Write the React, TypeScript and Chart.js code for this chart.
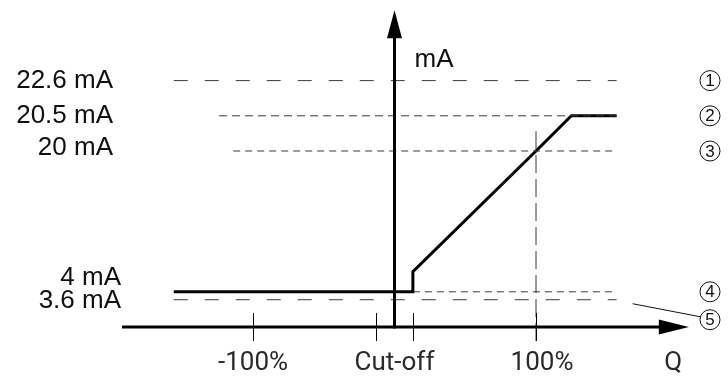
import React, { useEffect, useRef } from "react";
import { Chart, registerables } from "chart.js";

Chart.register(...registerables);

// ---- Flow axis Q (% of full scale) ----
const qAxisStart = -192.6;
const qAxisEnd = 208;
const qTickValues = [-100, 100];
const qTickLabels = ["-100%", "100%"];
const cutOff = 13;
const cutOffLabel = "Cut-off";
const qTitle = "Q";
const qTitleAt = 197;

// ---- Current axis (mA) ----
const mATitle = "mA";
const mAAxisTop = 26.8;
const levelValues = [22.6, 20.5, 20, 4, 3.6];
const levelLabels = ["22.6 mA", "20.5 mA", "20 mA", "4 mA", "3.6 mA"];
const levelMarkers = ["1", "2", "3", "4", "5"];
const levelStartQ = [-156, -124, -114, 13, -156];
const levelEndQ = [157, 157, 157, 157, 157];

// The diagram's current axis is schematic (not to scale):
// mA value -> drawn axis unit, piecewise linear
const knotsMA = [-10, 0, 3.6, 4, 20, 20.5, 22.6];
const knotsDrawn = [-10, 0, 3.1, 4, 20, 24, 28];

// ---- Output characteristic ----
const curveQ = [-156, 13, 13, 100, 125, 157];
const curveMA = [4, 4, 6.3, 20, 20.5, 20.5];

// ---- 100% guide line ----
const guideQ = 100;
const guideMA = [-1.6, 20.28];

function toDrawn(ma: number): number {
  const n = knotsMA.length;
  let i = 0;
  if (ma <= knotsMA[0]) i = 0;
  else if (ma >= knotsMA[n - 1]) i = n - 2;
  else {
    while (i < n - 2 && ma > knotsMA[i + 1]) i++;
  }
  const t = (ma - knotsMA[i]) / (knotsMA[i + 1] - knotsMA[i]);
  return knotsDrawn[i] + t * (knotsDrawn[i + 1] - knotsDrawn[i]);
}

// styles
const levelDash: number[][] = [[14, 17], [8, 5], [7, 5], [7, 5], [14, 17]];
const labelRightX = [113, 113, 113, 121, 121];
const labelDy = [0, 0, -3, -14, 1];
const markerDy = [0, 0, 0, 0, 0];
const LABEL_FONT = '26px "Liberation Sans", Arial, sans-serif';
const TICK_FONT = '26px Roboto, "Liberation Sans", sans-serif';

const diagramPlugin = {
  id: "diagram",
  afterDatasetsDraw(chart: any) {
    const ctx: CanvasRenderingContext2D = chart.ctx;
    const xs = chart.scales.x;
    const ys = chart.scales.y;
    const px = (q: number) => xs.getPixelForValue(q);
    const py = (ma: number) => ys.getPixelForValue(toDrawn(ma));
    ctx.save();

    const y0 = py(0);
    const x0 = px(0);

    // x axis with arrow
    const xTip = px(qAxisEnd);
    ctx.strokeStyle = "#000";
    ctx.fillStyle = "#000";
    ctx.lineWidth = 3;
    ctx.beginPath();
    ctx.moveTo(px(qAxisStart), y0);
    ctx.lineTo(xTip - 20, y0);
    ctx.stroke();
    ctx.beginPath();
    ctx.moveTo(xTip, y0);
    ctx.lineTo(xTip - 30, y0 - 7.5);
    ctx.lineTo(xTip - 30, y0 + 7.5);
    ctx.closePath();
    ctx.fill();

    // y axis with arrow
    const yTip = py(mAAxisTop);
    ctx.beginPath();
    ctx.moveTo(x0, y0 + 1.5);
    ctx.lineTo(x0, yTip + 20);
    ctx.stroke();
    ctx.beginPath();
    ctx.moveTo(x0, yTip);
    ctx.lineTo(x0 - 7.5, yTip + 28);
    ctx.lineTo(x0 + 7.5, yTip + 28);
    ctx.closePath();
    ctx.fill();

    // ticks
    ctx.lineWidth = 1;
    const tickQs = [...qTickValues, -cutOff, cutOff];
    tickQs.forEach((q) => {
      const x = Math.round(px(q)) + 0.5;
      ctx.beginPath();
      ctx.moveTo(x, y0 - 14);
      ctx.lineTo(x, y0 + 14);
      ctx.stroke();
    });

    // x labels
    ctx.font = TICK_FONT;
    ctx.fillStyle = "#2a2a2a";
    ctx.textAlign = "center";
    ctx.textBaseline = "middle";
    qTickValues.forEach((q, i) => {
      ctx.fillText(qTickLabels[i], px(q) + (q > 0 ? 6 : 0), y0 + 36);
    });
    ctx.fillText(cutOffLabel, px(0), y0 + 36);
    ctx.fillText(qTitle, px(qTitleAt), y0 + 36);

    // y title
    ctx.font = LABEL_FONT;
    ctx.fillStyle = "#111";
    ctx.textAlign = "left";
    ctx.fillText(mATitle, x0 + 20, py(mAAxisTop) + 50);

    // level labels
    ctx.textAlign = "right";
    levelValues.forEach((v, i) => {
      ctx.fillText(levelLabels[i], labelRightX[i], py(v) + labelDy[i]);
    });

    // markers
    const mx = chart.width - 18;
    ctx.lineWidth = 1;
    ctx.strokeStyle = "#111";
    ctx.font = '17px "Liberation Sans", Arial, sans-serif';
    ctx.textAlign = "center";
    levelValues.forEach((v, i) => {
      const my = py(v) + markerDy[i] + (i === 4 ? 20 : 0);
      ctx.beginPath();
      ctx.arc(mx, my, 10, 0, Math.PI * 2);
      ctx.stroke();
      ctx.fillText(levelMarkers[i], mx, my + 1);
    });

    // leader line from marker 5 to the 3.6 mA line
    const lastY = py(levelValues[4]);
    ctx.beginPath();
    ctx.moveTo(px(levelEndQ[4]) + 16, lastY + 4);
    ctx.lineTo(mx - 10, lastY + 17);
    ctx.stroke();

    ctx.restore();
  },
};

export default function App() {
  const ref = useRef<HTMLCanvasElement | null>(null);
  useEffect(() => {
    if (!ref.current) return;
    const W = 728;
    const H = 380;
    // frame: Q=0 at 394.5px, 141.5px per 100%; 0 mA at 327px, 8.8px per drawn unit
    const xMin = -394.5 / 1.415;
    const xMax = (W - 394.5) / 1.415;
    const yMin = -(H - 327) / 8.8;
    const yMax = 327 / 8.8;

    const levelSets = levelValues.map((v, i) => ({
      label: levelLabels[i],
      data: [
        { x: levelStartQ[i], y: toDrawn(v) },
        { x: levelEndQ[i], y: toDrawn(v) },
      ],
      showLine: true,
      borderColor: "#3a3a3a",
      borderWidth: 1,
      borderDash: levelDash[i],
      pointRadius: 0,
      fill: false,
    }));

    const chart = new Chart(ref.current, {
      type: "scatter",
      data: {
        datasets: [
          ...levelSets,
          {
            label: "100%",
            data: guideMA.map((m) => ({ x: guideQ, y: toDrawn(m) })),
            showLine: true,
            borderColor: "#3a3a3a",
            borderWidth: 1,
            borderDash: [18, 6],
            pointRadius: 0,
          },
          {
            label: "Output",
            data: curveQ.map((q, i) => ({ x: q, y: toDrawn(curveMA[i]) })),
            showLine: true,
            borderColor: "#000",
            borderWidth: 3,
            pointRadius: 0,
            borderJoinStyle: "miter",
          } as any,
        ],
      },
      options: {
        responsive: false,
        animation: false,
        devicePixelRatio: 1,
        layout: { padding: 0 },
        plugins: { legend: { display: false }, tooltip: { enabled: false }, title: { display: false } },
        scales: {
          x: { type: "linear", display: false, min: xMin, max: xMax },
          y: { type: "linear", display: false, min: yMin, max: yMax },
        },
      },
      plugins: [diagramPlugin],
    });
    return () => chart.destroy();
  }, []);

  return (
    <div style={{ position: "absolute", left: 0, top: 0, width: 728, height: 380, background: "#fff" }}>
      <canvas ref={ref} width={728} height={380} />
    </div>
  );
}
